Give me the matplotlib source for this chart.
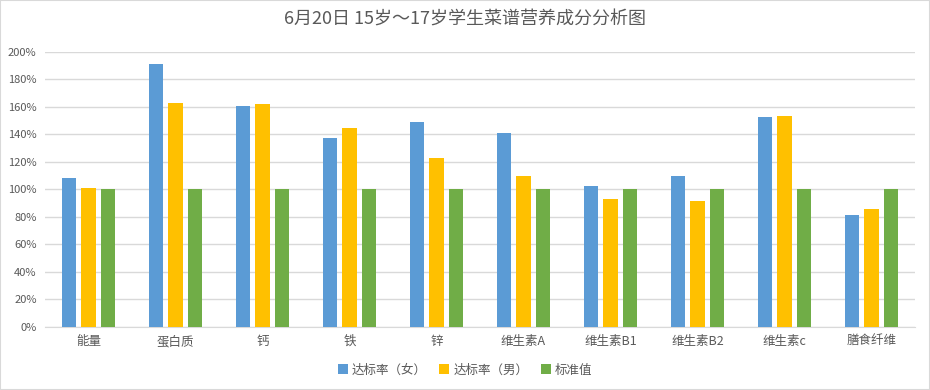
import matplotlib
matplotlib.use("Agg")
import matplotlib.pyplot as plt
import numpy as np
from matplotlib.patches import Rectangle

plt.rcParams['font.family'] = ['Noto Sans CJK SC', 'DejaVu Sans']

categories = ['能量', '蛋白质', '钙', '铁', '锌', '维生素A', '维生素B1', '维生素B2', '维生素c', '膳食纤维']
female = [108.4, 191.1, 160.5, 137.2, 148.9, 140.9, 102.3, 109.6, 152.5, 81.2]
male = [101.1, 162.9, 162.2, 144.5, 122.7, 109.6, 92.9, 91.4, 153.2, 85.6]
standard = [100, 100, 100, 100, 100, 100, 100, 100, 100, 100]
series_names = ['达标率（女）', '达标率（男）', '标准值']
colors = ['#5B9BD5', '#FFC000', '#70AD47']
title = '6月20日 15岁～17岁学生菜谱营养成分分析图'

fig = plt.figure(figsize=(9.3, 3.9), dpi=100)
ax = fig.add_axes([45/930, 63.3/390, 870/930, (326.7-51.7)/390])

x = np.arange(len(categories))
w = 0.172
off = 0.224
for i, (vals, name, c) in enumerate(zip([female, male, standard], series_names, colors)):
    ax.bar(x + (i - 1) * off, vals, width=w, color=c, label=name, zorder=3)

ax.set_xlim(-0.5, len(categories) - 0.5)
ax.set_ylim(0, 200)
ax.set_yticks(np.arange(0, 201, 20))
ax.set_yticklabels([f'{v}%' for v in range(0, 201, 20)])
ax.set_xticks(x)
ax.set_xticklabels(categories)
ax.grid(axis='y', color='#D9D9D9', linewidth=1, zorder=0)
for s in ['top', 'right', 'left']:
    ax.spines[s].set_visible(False)
ax.spines['bottom'].set_color('#D9D9D9')
ax.tick_params(axis='both', length=0, colors='#595959')
ax.tick_params(axis='y', labelsize=8, pad=6)
ax.tick_params(axis='x', labelsize=9, pad=6)

fig.text(0.5, 1 - 20/390, title, ha='center', va='center', fontsize=13, color='#595959')

leg = fig.legend(loc='center', bbox_to_anchor=(0.5, 1 - 370/390), ncol=3, frameon=False,
                 fontsize=9, handlelength=0.8, handleheight=0.8, handletextpad=0.3, columnspacing=1.0,
                 labelcolor='#595959')

fig.patches.append(Rectangle((0, 0), 1, 1, transform=fig.transFigure, fill=False,
                             edgecolor='#D9D9D9', linewidth=1.5, zorder=10))

fig.savefig('out.png', dpi=100)
